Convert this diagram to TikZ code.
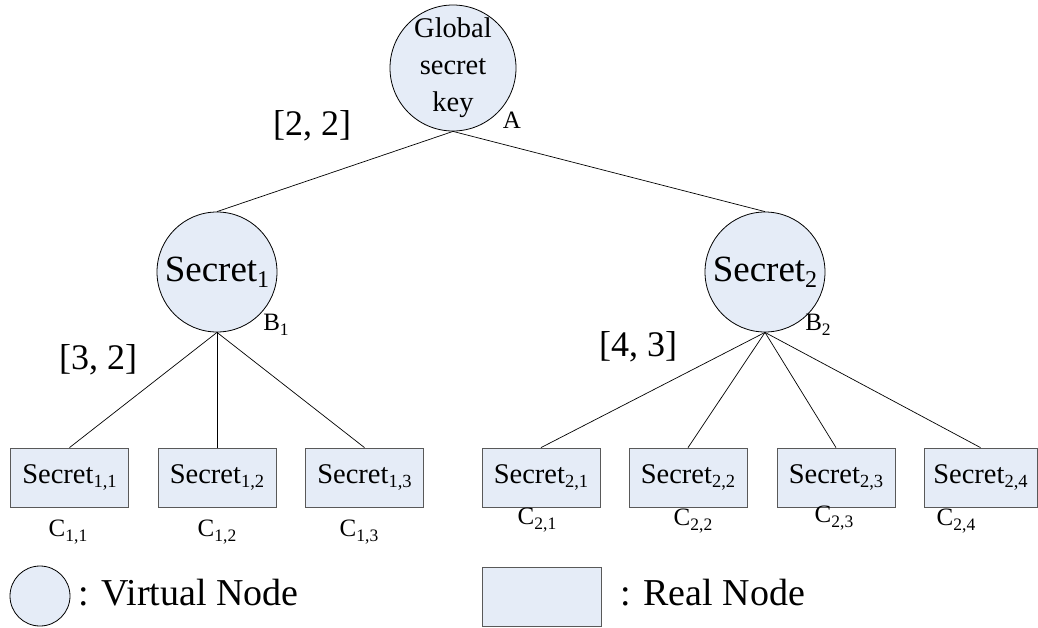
\documentclass[tikz,border=0pt]{standalone}
\usepackage{fontspec}
\setmainfont{Liberation Serif}
\usepackage{graphicx}
\definecolor{nodefill}{RGB}{229,236,247}
\newcommand\dn[1]{\raisebox{-0.16em}{\scalebox{0.65}{#1}}}
\newcommand\sdn[1]{\raisebox{-0.18em}{\scalebox{0.7}{#1}}}
\begin{document}
\begin{tikzpicture}[x=1pt,y=-1pt,
  vnode/.style={circle,draw=black,fill=nodefill,line width=0.8pt,minimum size=120pt,inner sep=0pt,font=\fontsize{37}{40}\selectfont},
  rnode/.style={rectangle,draw=black!65,fill=nodefill,line width=0.8pt,minimum width=118pt,minimum height=59pt,inner sep=0pt,font=\fontsize{28.5}{30}\selectfont},
  edge/.style={line width=0.7pt,black},
  big/.style={font=\fontsize{36}{40}\selectfont,inner sep=0pt},
  legend/.style={font=\fontsize{38}{40}\selectfont,inner sep=0pt,anchor=base west},
  small/.style={font=\fontsize{25}{27}\selectfont,inner sep=0pt}]
\useasboundingbox (0,0) rectangle (1038,627);

% virtual nodes
\node[vnode,minimum size=118pt,font=\fontsize{28.5}{37}\selectfont,align=center] (G) at (453,68) {Global\\secret\\key};
\node[vnode] (S1) at (217,272) {Secret\dn{1}};
\node[vnode] (S2) at (765,272) {Secret\dn{2}};

% real nodes
\node[rnode] (C11) at (69.5,477.5) {Secret\dn{1,1}};
\node[rnode] (C12) at (217,477.5) {Secret\dn{1,2}};
\node[rnode] (C13) at (364.5,477.5) {Secret\dn{1,3}};
\node[rnode] (C21) at (541,477.5) {Secret\dn{2,1}};
\node[rnode] (C22) at (688,477.5) {Secret\dn{2,2}};
\node[rnode] (C23) at (836,477.5) {Secret\dn{2,3}};
\node[rnode,minimum width=113pt] (C24) at (980.5,477.5) {Secret\dn{2,4}};

% connectors
\draw[edge] (G.south) -- (S1.north);
\draw[edge] (G.south) -- (S2.north);
\foreach \c in {C11,C12,C13} \draw[edge] (S1.south) -- (\c.north);
\foreach \c in {C21,C22,C23,C24} \draw[edge] (S2.south) -- (\c.north);

% thresholds
\node[big] (t1) at (312,126) {[2, 2]};
\node[big] (t2) at (98,360) {[3, 2]};
\node[big] (t3) at (638,347) {[4, 3]};

% node labels
\node[small] (lA) at (512,120) {A};
\node[small] (lB1) at (276,325) {B\sdn{1}};
\node[small] (lB2) at (818,325) {B\sdn{2}};
\node[small] (l11) at (68,532) {C\sdn{1,1}};
\node[small] (l12) at (217,532) {C\sdn{1,2}};
\node[small] (l13) at (359,532) {C\sdn{1,3}};
\node[small] (l21) at (537,520) {C\sdn{2,1}};
\node[small] (l22) at (693,521) {C\sdn{2,2}};
\node[small] (l23) at (834,518) {C\sdn{2,3}};
\node[small] (l24) at (956,521) {C\sdn{2,4}};

% legend
\node[vnode,minimum size=60pt] (LV) at (40,596) {};
\node[legend] (LVt) at (78,605) {: Virtual Node};
\node[rnode,minimum width=119pt,minimum height=59pt] (LR) at (541.5,596.5) {};
\node[legend] (LRt) at (620,605) {: Real Node};
\end{tikzpicture}
\end{document}
